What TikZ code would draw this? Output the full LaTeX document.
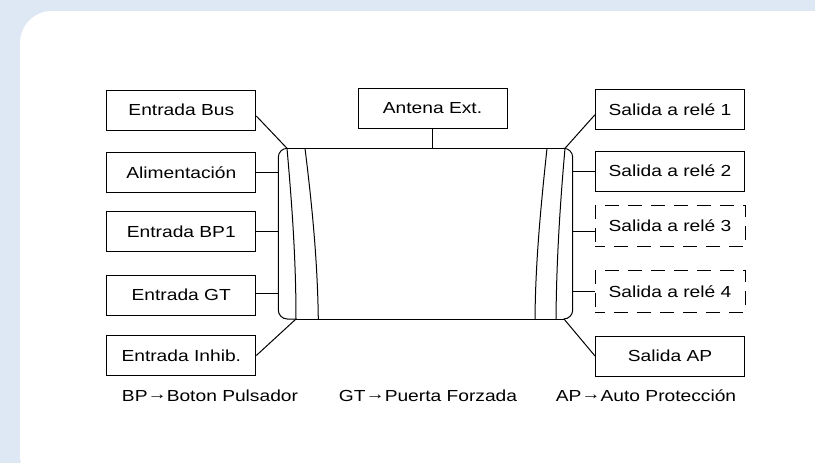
\documentclass[tikz,border=0pt]{standalone}
\usepackage{fontspec}
\setmainfont[FakeStretch=1.2]{Liberation Sans}
\definecolor{bgblue}{RGB}{222,232,244}
\newcommand{\rarrow}{\raisebox{0.12em}{→}}
\begin{document}
\begin{tikzpicture}[x=1pt,y=-1pt,
  box/.style={draw, line width=1pt, minimum width=149pt, minimum height=40pt, inner sep=0pt, font=\fontsize{16}{19}\selectfont},
  dbox/.style={box, dash pattern=on 14pt off 9pt, dash phase=4pt, minimum width=150pt, minimum height=41.5pt},
  wire/.style={line width=1pt},
  lbl/.style={inner sep=0pt, font=\fontsize{16}{19}\selectfont}]
\useasboundingbox (0,0) rectangle (815,463);
\clip (0,0) rectangle (815,463);
\fill[bgblue] (0,0) rectangle (815,463);
\fill[white, rounded corners=32pt] (20,11) rectangle (850,487);

% boxes
\node[box] (bus) at (181.3,110) {Entrada Bus};
\node[box] (alim) at (181.3,172.7) {Alimentación};
\node[box] (bp1) at (181.3,231.7) {Entrada BP1};
\node[box] (gt) at (181.3,295) {Entrada GT};
\node[box] (inhib) at (181.3,355.5) {Entrada Inhib.};
\node[box] (ant) at (432.5,108.3) {Antena Ext.};
\node[box] (r1) at (670,109.7) {Salida a relé 1};
\node[box] (r2) at (670,171) {Salida a relé 2};
\node[dbox] (r3) at (670,225.8) {Salida a relé 3};
\node[dbox] (r4) at (670,291.3) {Salida a relé 4};
\node[box] (ap) at (670,356) {Salida AP};

% body
\coordinate (TL) at (287,148.3);
\coordinate (BL) at (296,319);
\coordinate (TR) at (565,148.3);
\coordinate (BR) at (564,319);
\coordinate (LE) at (278.3,0);
\coordinate (RE) at (572.7,0);
\coordinate (AT) at (432.5,148.3);

\draw[wire] (TL) -- (TR);
\draw[wire] (BL) -- (BR);
\draw[wire, rounded corners=9pt] (TL) -- (278.3,148.3) -- (278.3,319) -- (BL);
\draw[wire, rounded corners=9pt] (TR) -- (572.7,148.3) -- (572.7,319) -- (BR);
\draw[wire] (TL) .. controls (292,205) and (296,260) .. (BL);
\draw[wire] (305,148.3) .. controls (312,205) and (317.5,260) .. (318.3,319);
\draw[wire] (547,148.3) .. controls (541,205) and (535.5,260) .. (535,319);
\draw[wire] (TR) .. controls (560,205) and (556.5,260) .. (556,319);

% connectors
\draw[wire] ([yshift=-6pt]bus.east) -- (TL);
\draw[wire] (alim.east) -- (alim.east -| LE);
\draw[wire] (bp1.east) -- (bp1.east -| LE);
\draw[wire] ([yshift=2pt]gt.east) -- ([yshift=2pt]gt.east -| LE);
\draw[wire] (inhib.east) -- (BL);
\draw[wire] (ant.south) -- (AT);
\draw[wire] ([yshift=-5pt]r1.west) -- (TR);
\draw[wire] (r2.west) -- (r2.west -| RE);
\draw[wire] ([yshift=-6pt]r3.west) -- ([yshift=-6pt]r3.west -| RE);
\draw[wire] (r4.west) -- (r4.west -| RE);
\draw[wire] (ap.west) -- (BR);

% legend
\node[lbl] (l1) at (210,396) {BP\rarrow Boton Pulsador};
\node[lbl] (l2) at (428,396) {GT\rarrow Puerta Forzada};
\node[lbl] (l3) at (646,396) {AP\rarrow Auto Protección};
\end{tikzpicture}
\end{document}
